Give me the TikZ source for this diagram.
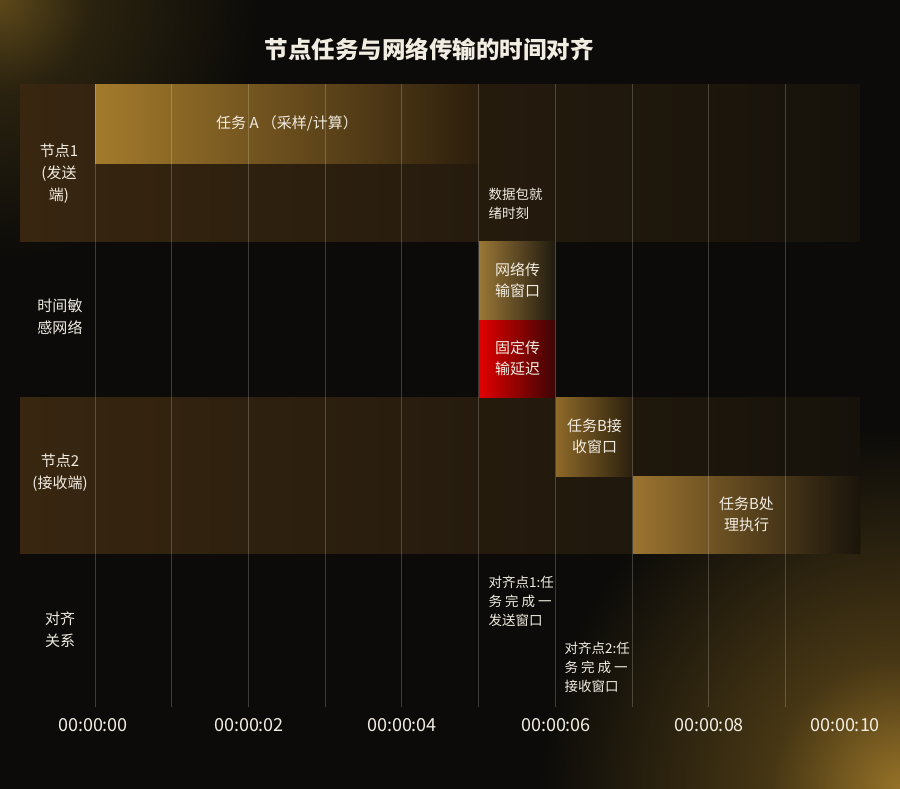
\documentclass[tikz,border=0pt]{standalone}
\usepackage{fontspec}
\setmainfont{Noto Sans CJK SC}
\usetikzlibrary{positioning}

\definecolor{pagebg}{HTML}{0C0B09}
\definecolor{rowbrown}{HTML}{382610}
\definecolor{rowfade}{HTML}{16120B}
\definecolor{txt}{HTML}{F2EDE2}
\definecolor{gold}{HTML}{A47B2C}

\pgfdeclareradialshading{glowtl}{\pgfpoint{0bp}{0bp}}{color(0bp)=(rgb,255:red,92;green,72;blue,26); color(5.7bp)=(rgb,255:red,42;green,34;blue,15); color(16.2bp)=(rgb,255:red,12;green,11;blue,9); color(50bp)=(rgb,255:red,12;green,11;blue,9)}
\pgfdeclareradialshading{glowbr}{\pgfpoint{0bp}{0bp}}{color(0bp)=(rgb,255:red,150;green,114;blue,40); color(2.7bp)=(rgb,255:red,70;green,54;blue,20); color(7.5bp)=(rgb,255:red,12;green,11;blue,9); color(50bp)=(rgb,255:red,12;green,11;blue,9)}

\begin{document}
\begin{tikzpicture}[x=1pt,y=-1pt,
  label/.style={text=txt,align=center,font=\fontsize{15}{22}\selectfont},
  note/.style={text=txt,align=left,anchor=west,font=\fontsize{13.5}{19}\selectfont},
  tick/.style={text=txt,font=\fontsize{18}{20}\selectfont},
  bar/.style={rectangle,inner sep=0pt,outer sep=0pt,text=txt,align=center,font=\fontsize{15}{21}\selectfont},
  gridline/.style={white,opacity=0.2,line width=0.8pt}]

\useasboundingbox (0,0) rectangle (900,788);
\fill[pagebg] (0,0) rectangle (900,788);
\begin{scope}
\clip (0,0) rectangle (900,788);
\shade[shading=glowbr] (900,788) circle (1200);
\shade[shading=glowtl] (0,0) circle (400);
\end{scope}

% rows
\shade[left color=rowbrown,right color=rowfade] (20,84) rectangle (860,241);
\shade[left color=rowbrown,right color=rowfade] (20,397) rectangle (860,553);

\node[text=txt,font=\bfseries\fontsize{23.5}{26}\selectfont] (title) at (429,49) {节点任务与网络传输的时间对齐};

% bars
\node[bar,minimum width=384pt,minimum height=79pt,left color=gold,right color=rowbrown!80!black] (ta) at (287,123.5) {任务 A （采样/计算）};
\node[bar,minimum width=77pt,minimum height=79pt,left color={rgb,255:red,154;green,119;blue,55},right color={rgb,255:red,30;green,25;blue,15}] (nw) at (517.5,280.5) {网络传\\输窗口};
\node[bar,minimum width=77pt,minimum height=77pt,left color={rgb,255:red,226;green,0;blue,0},right color={rgb,255:red,58;green,5;blue,5}] (fd) at (517.5,358.5) {固定传\\输延迟};
\node[bar,minimum width=77pt,minimum height=79pt,left color={rgb,255:red,142;green,106;blue,42},right color={rgb,255:red,42;green,30;blue,13}] (tbr) at (594.5,436.5) {任务B接\\收窗口};
\node[bar,minimum width=227pt,minimum height=77pt,left color={rgb,255:red,156;green,116;blue,48},right color={rgb,255:red,26;green,20;blue,11}] (tbp) at (746.5,514.5) {任务B处\\理执行};

% grid
\draw[gridline] (95,84) -- (95,707);
\draw[gridline] (171.7,84) -- (171.7,707);
\draw[gridline] (248.4,84) -- (248.4,707);
\draw[gridline] (325.1,84) -- (325.1,707);
\draw[gridline] (401.8,84) -- (401.8,707);
\draw[gridline] (478.5,84) -- (478.5,707);
\draw[gridline] (555.2,84) -- (555.2,707);
\draw[gridline] (631.9,84) -- (631.9,707);
\draw[gridline] (708.6,84) -- (708.6,707);
\draw[gridline] (785.3,84) -- (785.3,707);

% row labels
\node[label] (n1) at (59,174) {节点1\\(发送\\端)};
\node[label] (tsn) at (60,317) {时间敏\\感网络};
\node[label] (n2) at (60,473) {节点2\\(接收端)};
\node[label] (al) at (60,630) {对齐\\关系};

% notes
\node[note] (ready) at (485,203.5) {数据包就\\绪时刻};
\node[note] (ap1) at (485,601) {对齐点1:任\\务 完 成 一\\发送窗口};
\node[note] (ap2) at (561,667) {对齐点2:任\\务 完 成 一\\接收窗口};

% time axis
\node[tick] (t0) at (93,725) {00:00:00};
\node[tick] (t2) at (249,725) {00:00:02};
\node[tick] (t4) at (402,725) {00:00:04};
\node[tick] (t6) at (556,725) {00:00:06};
\node[tick] (t8) at (709,725) {00:00:08};
\node[tick] (t10) at (845,725) {00:00:10};

\end{tikzpicture}
\end{document}
